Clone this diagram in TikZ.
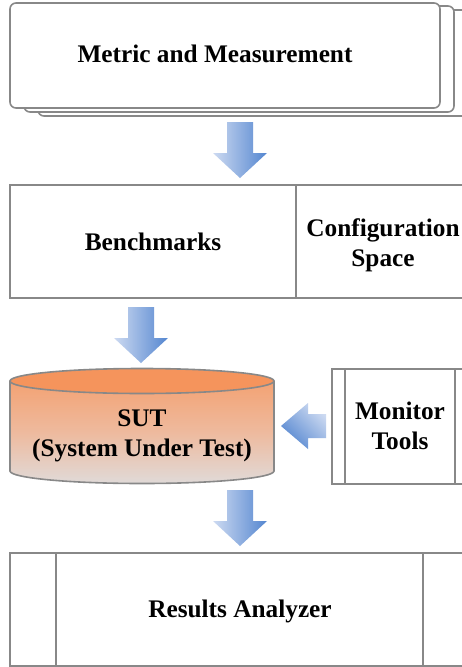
\documentclass[tikz,border=0pt]{standalone}
\usepackage{fontspec}
\setmainfont{Liberation Serif}
\definecolor{edge}{RGB}{136,136,136}
\definecolor{arrlight}{RGB}{205,218,241}
\definecolor{arrdark}{RGB}{84,134,208}
\definecolor{cyltop}{RGB}{245,148,92}
\definecolor{cylupper}{RGB}{243,162,115}
\definecolor{cylbottom}{RGB}{224,218,216}
\tikzset{
  boxline/.style={draw=edge, line width=1.6pt},
  lbl/.style={font=\fontsize{25.3}{30}\selectfont\bfseries, align=center, text=black},
  downarr/.pic={\shade[left color=arrlight, right color=arrdark]
    (-13,0) -- (13,0) -- (13,31) -- (27,31) -- (0,56) -- (-27,31) -- (-13,31) -- cycle;},
}
\begin{document}
\begin{tikzpicture}[x=1pt,y=-1pt]
\clip (0,0) rectangle (462,667);
\fill[white] (0,0) rectangle (462,667);
% Metric and Measurement (stacked)
\draw[boxline, fill=white, rounded corners=6pt] (38,10) rectangle (470,116);
\draw[boxline, fill=white, rounded corners=6pt] (24,6) rectangle (454,112);
\draw[boxline, fill=white, rounded corners=6pt] (10,3) rectangle (440,108);
\node[lbl] (metric) at (215,54) {Metric and Measurement};
% arrow 1
\pic at (240,122) {downarr};
% Benchmarks
\draw[boxline] (10,185) rectangle (475,298);
\draw[boxline] (296,185) -- (296,298);
\node[lbl] (bench) at (153,242) {Benchmarks};
\node[lbl] (config) at (383,245) {Configuration\\Space};
% arrow 2
\pic at (141,307) {downarr};
% SUT cylinder
\shade[top color=cylupper, bottom color=cylbottom, middle color={rgb,255:red,238;green,186;blue,158}]
  (10,381) -- (10,471) arc[start angle=180, end angle=0, x radius=132, y radius=12.5]
  -- (274,381) -- cycle;
\draw[boxline] (10,381) -- (10,471) arc[start angle=180, end angle=0, x radius=132, y radius=12.5] -- (274,381);
\draw[boxline, fill=cyltop] (142,381) ellipse[x radius=132, y radius=12.5];
\node[lbl] (sut) at (142,436) {SUT\\(System Under Test)};
% left arrow
\shade[top color=arrlight, bottom color=arrdark, shading angle=-45]
  (326,414) -- (326,438) -- (308,438) -- (308,449) -- (281,426) -- (308,403) -- (308,414) -- cycle;
% Monitor Tools
\draw[boxline] (332,369) rectangle (475,484);
\draw[boxline] (345,369) -- (345,484);
\draw[boxline] (455,369) -- (455,484);
\node[lbl] (monitor) at (400,426) {Monitor\\Tools};
% arrow 3
\pic at (240,490) {downarr};
% Results Analyzer
\draw[boxline] (10,553) rectangle (475,666);
\draw[boxline] (56,553) -- (56,666);
\draw[boxline] (423,553) -- (423,666);
\node[lbl] (results) at (240,611) {Results Analyzer};
\end{tikzpicture}
\end{document}
